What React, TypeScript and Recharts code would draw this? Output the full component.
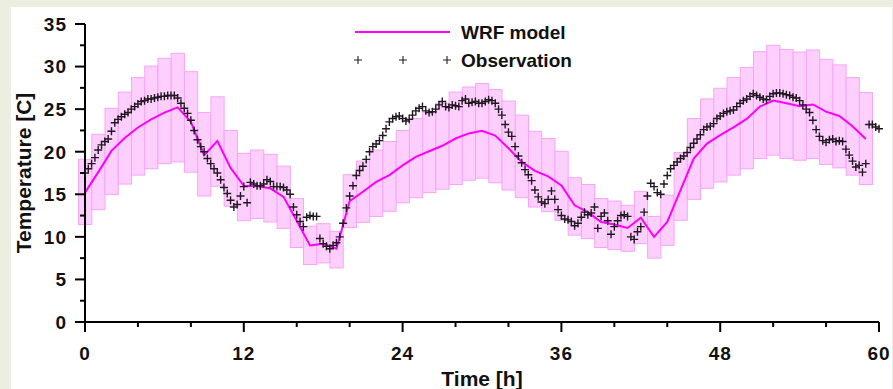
import React from 'react';
import { ComposedChart, Bar, Line, Scatter, XAxis, YAxis, Legend } from 'recharts';

// Hourly WRF model values (hour 0..59)
const hours = [
  0, 1, 2, 3, 4, 5, 6, 7, 8, 9, 10, 11, 12, 13, 14, 15, 16, 17, 18, 19,
  20, 21, 22, 23, 24, 25, 26, 27, 28, 29, 30, 31, 32, 33, 34, 35, 36, 37, 38, 39,
  40, 41, 42, 43, 44, 45, 46, 47, 48, 49, 50, 51, 52, 53, 54, 55, 56, 57, 58, 59,
];
const wrfModel = [
  15.2, 17.6, 20.1, 21.6, 22.85, 23.8, 24.6, 25.2, 23.5, 19.6,
  21.25, 18.1, 16.0, 15.95, 15.7, 14.7, 11.9, 9.0, 9.2, 8.6,
  14.2, 15.3, 16.45, 17.25, 18.4, 19.4, 20.05, 20.7, 21.55, 22.15,
  22.45, 21.9, 20.4, 18.8, 17.75, 17.1, 16.05, 13.7, 12.9, 11.75,
  11.45, 11.05, 12.25, 10.0, 11.75, 15.5, 19.2, 20.95, 21.95, 22.85,
  23.85, 25.3, 26.0, 25.7, 25.35, 25.55, 24.7, 24.2, 23.0, 21.5,
];
const rangeHigh = [
  19.1, 22.05, 25.1, 27.0, 28.7, 30.06, 30.97, 31.55, 29.4, 24.6,
  26.45, 22.5, 19.8, 20.2, 19.7, 18.3, 14.5, 11.25, 11.55, 10.65,
  17.3, 18.9, 20.2, 21.2, 22.5, 23.9, 24.6, 25.7, 27.0, 27.6,
  28.0, 27.3, 25.95, 24.3, 22.4, 21.55, 20.05, 16.95, 16.15, 14.5,
  14.2, 13.7, 15.35, 12.4, 14.9, 19.9, 23.9, 26.2, 27.45, 28.7,
  29.9, 31.75, 32.5, 32.0, 31.7, 31.95, 30.85, 30.2, 28.7, 26.95,
];
const rangeLow = [
  11.45, 13.2, 14.97, 16.2, 17.25, 18.0, 18.6, 18.8, 17.6, 14.8,
  15.95, 13.6, 11.9, 12.15, 11.75, 11.0, 8.75, 6.75, 6.95, 6.35,
  11.1, 11.7, 12.4, 13.0, 14.0, 14.6, 15.2, 15.6, 16.15, 16.65,
  16.9, 16.35, 15.5, 14.6, 13.5, 12.95, 11.95, 10.2, 9.8, 8.75,
  8.5, 8.3, 9.2, 7.5, 9.0, 11.95, 14.4, 15.7, 16.45, 17.25,
  18.0, 19.2, 19.6, 19.2, 19.0, 19.2, 18.5, 18.1, 17.25, 16.15,
];

// Observations, every 15 minutes from hour 0 to hour 60
const obsStartHour = 0;
const obsStepHours = 0.25;
const observation = [
  17.5, 18.0, 18.6, 19.3,
  20.2, 20.8, 21.2, 21.5,
  22.4, 23.4, 23.8, 24.1,
  24.4, 24.6, 25.0, 25.3,
  25.6, 25.9, 26.0, 26.2,
  26.2, 26.3, 26.4, 26.5,
  26.5, 26.6, 26.6, 26.6,
  26.3, 25.7, 25.1, 24.5,
  23.7, 22.5, 21.4, 20.6,
  20.0, 19.2, 18.6, 18.0,
  17.5, 16.7, 15.8, 15.1,
  14.3, 13.5, 13.8, 14.8,
  15.9, 14.0, 16.4, 16.2,
  16.0, 16.0, 16.2, 16.7,
  16.5, 15.9, 15.9, 15.9,
  15.8, 15.5, 15.0, 13.5,
  12.6, 11.8, 11.2, 12.3,
  12.5, 12.4, 12.4, 9.8,
  9.2, 8.9, 8.6, 9.0,
  9.3, 10.0, 11.6, 13.4,
  14.8, 16.0, 17.2, 17.8,
  18.3, 19.1, 20.0, 20.6,
  20.9, 21.3, 21.9, 22.7,
  23.5, 23.9, 24.1, 24.2,
  23.9, 23.6, 23.8, 24.3,
  24.8, 25.1, 25.3, 24.8,
  24.6, 24.7, 25.0, 25.5,
  25.9, 25.3, 25.2, 25.5,
  25.4, 25.3, 26.0, 26.2,
  25.7, 25.8, 25.9, 25.7,
  25.7, 25.9, 26.1, 26.0,
  25.7, 25.0, 24.3, 23.2,
  22.3, 21.8, 20.6, 19.5,
  18.7, 17.9, 17.3, 16.6,
  15.5, 14.7, 14.1, 13.9,
  14.4, 15.4, 14.4, 13.2,
  12.5, 12.1, 12.0, 11.8,
  11.3, 11.6, 12.3, 12.9,
  12.6, 12.8, 13.5, 11.0,
  12.4, 12.8, 11.9, 10.3,
  11.2, 11.9, 12.5, 12.6,
  12.4, 10.0, 9.7, 10.6,
  11.2, 12.9, 14.8, 16.3,
  15.9, 15.2, 15.0, 16.2,
  17.2, 18.0, 18.4, 18.8,
  19.2, 19.5, 19.9, 20.5,
  21.0, 21.5, 22.0, 22.6,
  22.9, 23.0, 23.3, 23.9,
  24.2, 24.5, 24.7, 24.8,
  24.9, 25.3, 25.7, 26.0,
  26.2, 26.5, 26.8, 26.6,
  26.4, 26.2, 26.1, 26.5,
  26.8, 26.9, 26.9, 26.8,
  26.7, 26.6, 26.4, 26.3,
  26.0, 25.5, 25.0, 24.6,
  23.7, 22.6, 21.8, 21.3,
  21.1, 21.4, 21.5, 21.2,
  21.3, 21.2, 20.3, 19.6,
  18.9, 18.2, 18.4, 17.6,
  18.6, 23.2, 23.2, 22.9,
  22.7,
];

const xTicks = [0, 4, 8, 12, 16, 20, 24, 28, 32, 36, 40, 44, 48, 52, 56, 60];
const xMajorTicks = [0, 12, 24, 36, 48, 60];
const yTicks = [0, 2.5, 5, 7.5, 10, 12.5, 15, 17.5, 20, 22.5, 25, 27.5, 30, 32.5, 35];
const yMajorTicks = [0, 5, 10, 15, 20, 25, 30, 35];

const FONT = '"Liberation Sans", Arial, Helvetica, sans-serif';
const MAGENTA = '#ff00ff';
const MARK = '#221822';

const CHART_W = 893;
const CHART_H = 389;
const MARGIN = { top: 24, right: 14, bottom: 20, left: 0 };
const Y_AXIS_W = 85;
const X_SPAN = 60;
// width of one hour on the x axis (box width)
const HOUR_PX = (CHART_W - MARGIN.left - MARGIN.right - Y_AXIS_W) / X_SPAN;

const chartData = hours.map((h, i) => ({
  h,
  wrf: wrfModel[i],
  range: [rangeLow[i], rangeHigh[i]],
}));
const obsData = observation.map((t, i) => ({ h: obsStartHour + i * obsStepHours, t }));

const BoxShape = (props: any) => {
  const { x, y, width, height } = props;
  if (x == null || y == null) return null;
  const cx = x + width / 2;
  return (
    <rect x={cx - HOUR_PX / 2} y={y} width={HOUR_PX} height={height} fill="#fdcffd" stroke="#f6a6f6" strokeWidth={1} />
  );
};

const YTick = (props: any) => {
  const { x, y, payload } = props;
  const v = payload.value;
  const major = yMajorTicks.includes(v);
  return (
    <g>
      <line x1={x - (major ? 10 : 5)} x2={x} y1={y} y2={y} stroke="#000" strokeWidth={2} />
      {major && (
        <text x={x - 18} y={y + 6.8} textAnchor="end" fontFamily={FONT} fontWeight="bold" fontSize={19} fill="#111" letterSpacing={1}>
          {v}
        </text>
      )}
    </g>
  );
};

const XTick = (props: any) => {
  const { x, y, payload } = props;
  const v = payload.value;
  const major = xMajorTicks.includes(v);
  return (
    <g>
      <line x1={x} x2={x} y1={y} y2={y + (major ? 10 : 5)} stroke="#000" strokeWidth={2} />
      {major && (
        <text x={x} y={y + 38} textAnchor="middle" fontFamily={FONT} fontWeight="bold" fontSize={19} fill="#111" letterSpacing={1}>
          {v}
        </text>
      )}
    </g>
  );
};

const PlusShape = (props: any) => {
  const { cx, cy } = props;
  if (cx == null || cy == null) return null;
  return (
    <path d={`M${cx - 4},${cy}h8M${cx},${cy - 4}v8`} stroke={MARK} strokeWidth={1.4} fill="none" />
  );
};

const LegendContent = () => (
  <svg width={893} height={80} style={{ display: 'block' }}>
    <line x1={355} x2={450} y1={32} y2={32} stroke={MAGENTA} strokeWidth={2} />
    <text x={461} y={38.8} fontFamily={FONT} fontWeight="bold" fontSize={19} fill="#111">WRF model</text>
    {[358, 403, 447].map((px) => (
      <path key={px} d={`M${px - 4},60h8M${px},56v8`} stroke="#222" strokeWidth={1.1} fill="none" />
    ))}
    <text x={461} y={66.8} fontFamily={FONT} fontWeight="bold" fontSize={19} fill="#111">Observation</text>
  </svg>
);

export default function App() {
  return (
    <div style={{ position: 'absolute', left: 0, top: 0, width: CHART_W, height: CHART_H, background: '#eceee0', overflow: 'hidden' }}>
      <div style={{ position: 'absolute', left: 11, top: 7, width: 881, height: 382, background: '#ffffff' }} />
      <div style={{ position: 'absolute', left: 0, top: 0 }}>
        <ComposedChart width={CHART_W} height={CHART_H} data={chartData} margin={MARGIN}>
          <Bar dataKey="range" shape={BoxShape} isAnimationActive={false} />
          <Scatter data={obsData} dataKey="t" shape={PlusShape} isAnimationActive={false} />
          <Line dataKey="wrf" type="linear" stroke={MAGENTA} strokeWidth={2} dot={false} activeDot={false} isAnimationActive={false} />
          <XAxis
            dataKey="h"
            type="number"
            domain={[0, 60]}
            ticks={xTicks}
            interval={0}
            height={47}
            tickSize={0}
            tickMargin={0}
            tickLine={false}
            axisLine={{ stroke: '#000', strokeWidth: 2 }}
            tick={XTick}
            label={{
              content: () => (
                <text x={482} y={386} textAnchor="middle" fontFamily={FONT} fontWeight="bold" fontSize={21} fill="#111">
                  Time [h]
                </text>
              ),
            }}
          />
          <YAxis
            type="number"
            domain={[0, 35]}
            ticks={yTicks}
            interval={0}
            width={Y_AXIS_W}
            tickSize={0}
            tickMargin={0}
            tickLine={false}
            axisLine={{ stroke: '#000', strokeWidth: 2 }}
            tick={YTick}
            label={{
              content: () => (
                <text transform="translate(30.5,173) rotate(-90)" textAnchor="middle" fontFamily={FONT} fontWeight="bold" fontSize={21} fill="#111">
                  Temperature [C]
                </text>
              ),
            }}
          />
          <Legend
            verticalAlign="middle"
            align="center"
            layout="horizontal"
            wrapperStyle={{ left: 0, top: 0, width: CHART_W, height: 80 }}
            content={LegendContent}
          />
        </ComposedChart>
      </div>
    </div>
  );
}
